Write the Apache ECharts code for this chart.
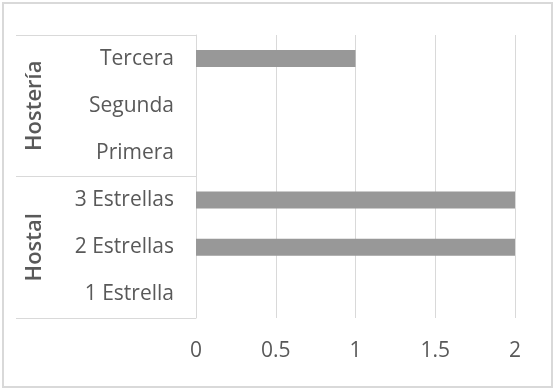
<!DOCTYPE html>
<html><head><meta charset="utf-8">
<script src="https://cdn.jsdelivr.net/npm/echarts@6/dist/echarts.min.js"></script>
<style>html,body{margin:0;padding:0;background:#fff}#wrap{position:absolute;left:2px;top:2px;width:547px;height:382px;border:2px solid #d9d9d9}#c{width:555px;height:390px;position:absolute;left:0;top:0}</style>
</head><body>
<div id="wrap"></div>
<div id="c"></div>
<script>
const categories = ['Tercera','Segunda','Primera','3 Estrellas','2 Estrellas','1 Estrella'];
const groups = ['Hostería','Hostal'];
const values = [1, 0, 0, 2, 2, 0];
const xTicks = [0, 0.5, 1, 1.5, 2];

const chart = echarts.init(document.getElementById('c'), null, {renderer:'canvas'});
const font = 'Open Sans';
chart.setOption({
  animation: false,
  grid: {left: 196, right: 40, top: 35, bottom: 72},
  xAxis: {
    type: 'value', min: xTicks[0], max: xTicks[xTicks.length-1], interval: 0.5,
    axisLine: {show: false}, axisTick: {show: false},
    splitLine: {lineStyle: {color: '#d9d9d9', width: 1}},
    axisLabel: {color: '#595959', fontSize: 21, fontFamily: font, margin: 23}
  },
  yAxis: [{
    type: 'category', data: categories, inverse: true,
    axisLine: {show: false}, axisTick: {show: false},
    axisLabel: {color: '#595959', fontSize: 21, fontFamily: font, margin: 22}
  }, {
    type: 'category', data: groups, inverse: true, position: 'left',
    axisLine: {show: true, lineStyle: {color: '#d9d9d9', width: 1}},
    axisTick: {show: true, length: 180, lineStyle: {color: '#d9d9d9', width: 1}},
    axisLabel: {color: '#595959', fontSize: 22, fontWeight: 600, fontFamily: font, rotate: 90, margin: 161, align: 'center', verticalAlign: 'middle'}
  }],
  series: [{
    type: 'bar', data: values, yAxisIndex: 0, barWidth: 17,
    itemStyle: {color: '#989898'}
  }]
});
</script>
</body></html>
